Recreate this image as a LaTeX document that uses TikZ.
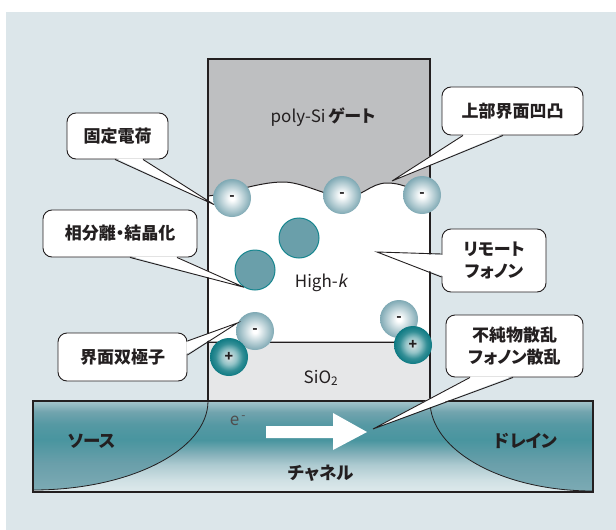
\documentclass[tikz,border=0pt]{standalone}
\usepackage{fontspec}
\setmainfont{Noto Sans CJK JP}[RawFeature=+palt, AutoFakeSlant=0.2]
\usetikzlibrary{calc}
\definecolor{bgblue}{HTML}{DCE6EA}
\definecolor{polysi}{HTML}{BEBFC1}
\definecolor{oxide}{HTML}{E6E7E8}
\definecolor{ink}{HTML}{231F20}
\definecolor{phase}{HTML}{6A9FAA}
\definecolor{phaserim}{HTML}{17868F}
\definecolor{negrim}{HTML}{7FA9B4}
\definecolor{posrim}{HTML}{0E7A83}
\definecolor{posin}{HTML}{DDE4E5}
\pgfdeclareradialshading{negball}{\pgfpoint{0bp}{0bp}}{color(0bp)=(white); color(3bp)=(white); color(14bp)=(negrim!50!white); color(25bp)=(negrim); color(50bp)=(negrim)}
\pgfdeclareradialshading{posball}{\pgfpoint{0bp}{0bp}}{color(0bp)=(posin); color(10bp)=(posrim!45!white); color(18bp)=(posrim!85!white); color(25bp)=(posrim); color(50bp)=(posrim)}
\pgfdeclareverticalshading{chan}{100bp}{color(0bp)=(white!78!phase); color(25bp)=(white!78!phase); color(31.5bp)=(white!68!phase); color(40bp)=(white!45!phase); color(45.5bp)=(white!20!phase); color(53.5bp)=(phaserim!40!phase); color(62bp)=(phaserim!25!phase); color(69bp)=(white!5!phase); color(75bp)=(white!40!phase); color(100bp)=(white!40!phase)}
\pgfdeclareverticalshading{well}{100bp}{color(0bp)=(white!12!phase); color(25bp)=(white!12!phase); color(40bp)=(phase); color(53.5bp)=(phaserim!40!phase); color(62bp)=(phaserim!25!phase); color(69bp)=(white!5!phase); color(75bp)=(white!40!phase); color(100bp)=(white!40!phase)}

\begin{document}
\begin{tikzpicture}[x=1pt, y=-1pt,
    every node/.style={text=ink},
    lbl/.style={font=\fontsize{17}{20}\selectfont},
    tag/.style={font=\bfseries\fontsize{17.5}{20}\selectfont},
    note/.style={draw=ink, fill=white, line width=0.9pt, rounded corners=9pt, align=center, inner sep=0pt, font=\bfseries\fontsize{17}{22}\selectfont},
    tail/.style={draw=ink, line width=0.9pt, line join=miter},
    minus/.style={circle, minimum size=38pt, inner sep=0pt, shade, shading=negball, font=\bfseries\fontsize{14}{14}\selectfont},
    plus/.style={minus, shading=posball},
    grain/.style={circle, minimum size=40pt, inner sep=0pt, fill=phase, draw=phaserim, line width=1pt}]
  \useasboundingbox (0,0) rectangle (616,530);
  \fill[white] (0,0) rectangle (616,530);
  \fill[bgblue] (6,12) rectangle (616,530);

  % gate stack
  \fill[polysi] (208,59) rectangle (430,205);
  \filldraw[fill=white, draw=ink, line width=1pt] (208,196) .. controls (228,194) and (258,182) .. (283,182)
    .. controls (300,182) and (318,192) .. (342,198) .. controls (362,198) and (370,183) .. (387,183)
    .. controls (405,183) and (415,192) .. (430,195) -- (430,342) -- (208,342) -- cycle;
  \fill[oxide] (208,342) rectangle (430,401);
  \draw[ink, line width=1pt] (208,342) -- (430,342);

  % substrate with source and drain
  \shade[shading=chan] (33,401) rectangle (593,492);
  \shade[shading=well] (208,401) .. controls (208,450) and (130,490) .. (33,490) -- (33,401) -- cycle;
  \shade[shading=well] (430,401) .. controls (430,451) and (503,491) .. (593,491) -- (593,401) -- cycle;
  \draw[ink, line width=0.8pt] (208,401) .. controls (208,450) and (130,490) .. (33,490);
  \draw[ink, line width=0.8pt] (430,401) .. controls (430,451) and (503,491) .. (593,491);
  \draw[ink, line width=1.2pt] (33,401) rectangle (593,492);
  \draw[ink, line width=1.2pt] (208,401) -- (208,59) -- (430,59) -- (430,401);

  \node[lbl] (gate) at (323,117) {poly-Si\,\textbf{ゲート}};
  \node[lbl] (hik) at (321,283) {High-\textit{k}};
  \node[lbl] (sio) at (321,378) {SiO\textsubscript{2}};
  \node[lbl, text=ink!80] (el) at (238,421) {e\textsuperscript{\,-}};
  \node[tag] (src) at (92,441) {ソース};
  \node[tag] (drn) at (526,441) {ドレイン};
  \node[tag] (ch) at (321,473) {チャネル};

  \fill[white] (266,426) -- (333,426) -- (333,413) -- (367,432) -- (333,450) -- (333,438) -- (266,438) -- cycle;

  % crystallites and charges
  \node[grain] (b1) at (299,238) {};
  \node[grain] (b2) at (255,270) {};
  \foreach \n/\x/\y in {q1/232/198, q2/342/195, q3/422/195, q4/255/331, q5/399/319}
    \node[minus] (\n) at (\x,\y) {-};
  \foreach \n/\x/\y in {p1/229/357, p2/413/345}
    \node[plus] (\n) at (\x,\y) {+};

  \coordinate (bump) at (392,181);
  \coordinate (bulk) at (377,252);
  \coordinate (flow) at (373,429);

  % callouts
  \node[note, minimum width=101pt, minimum height=46pt] (fixed) at (117.5,136) {固定電荷};
  \fill[white] ($(fixed.south)+(-1.5,-1.2)$) -- (q1.200) -- ($(fixed.south)+(24.5,-1.2)$) -- cycle;
  \draw[tail] ($(fixed.south)+(-2.5,0)$) -- (q1.200) -- ($(fixed.south)+(25.5,0)$);

  \node[note, minimum width=154pt, minimum height=47pt] (sep) at (120,233.5) {相分離・結晶化};
  \fill[white] ($(sep.south)+(11,-1.2)$) -- (b2.237) -- ($(sep.south)+(56,-1.2)$) -- cycle;
  \draw[tail] ($(sep.south)+(10,0)$) -- (b2.237) -- ($(sep.south)+(57,0)$);

  \node[note, minimum width=141pt, minimum height=48pt] (rough) at (512.5,111) {上部界面凹凸};
  \fill[white] ($(rough.south)+(-48.5,-1.2)$) -- (bump) -- ($(rough.south)+(-10.5,-1.2)$) -- cycle;
  \draw[tail] ($(rough.south)+(-49.5,0)$) -- (bump) -- ($(rough.south)+(-9.5,0)$);

  \node[note, minimum width=104pt, minimum height=63pt] (remote) at (494,260.5) {リモート\\フォノン};
  \fill[white] ($(remote.west)+(1.2,-5.5)$) -- (bulk) -- ($(remote.west)+(1.2,15.5)$) -- cycle;
  \draw[tail] ($(remote.west)+(0,-6.5)$) -- (bulk) -- ($(remote.west)+(0,16.5)$);

  \node[note, minimum width=129pt, minimum height=48pt] (dipole) at (122.5,357) {界面双極子};
  \fill[white] ($(dipole.east)+(-1.2,-15)$) -- (q4.155) -- ($(dipole.east)+(-1.2,-3)$) -- cycle;
  \draw[tail] ($(dipole.east)+(0,-16)$) -- (q4.155) -- ($(dipole.east)+(0,-2)$);

  \node[note, minimum width=137pt, minimum height=62pt] (scatter) at (514.5,346) {不純物散乱\\フォノン散乱};
  \fill[white] ($(scatter.south)+(-43.5,-1.2)$) -- (flow) -- ($(scatter.south)+(-2.5,-1.2)$) -- cycle;
  \draw[tail] ($(scatter.south)+(-44.5,0)$) -- (flow) -- ($(scatter.south)+(-1.5,0)$);
\end{tikzpicture}
\end{document}
